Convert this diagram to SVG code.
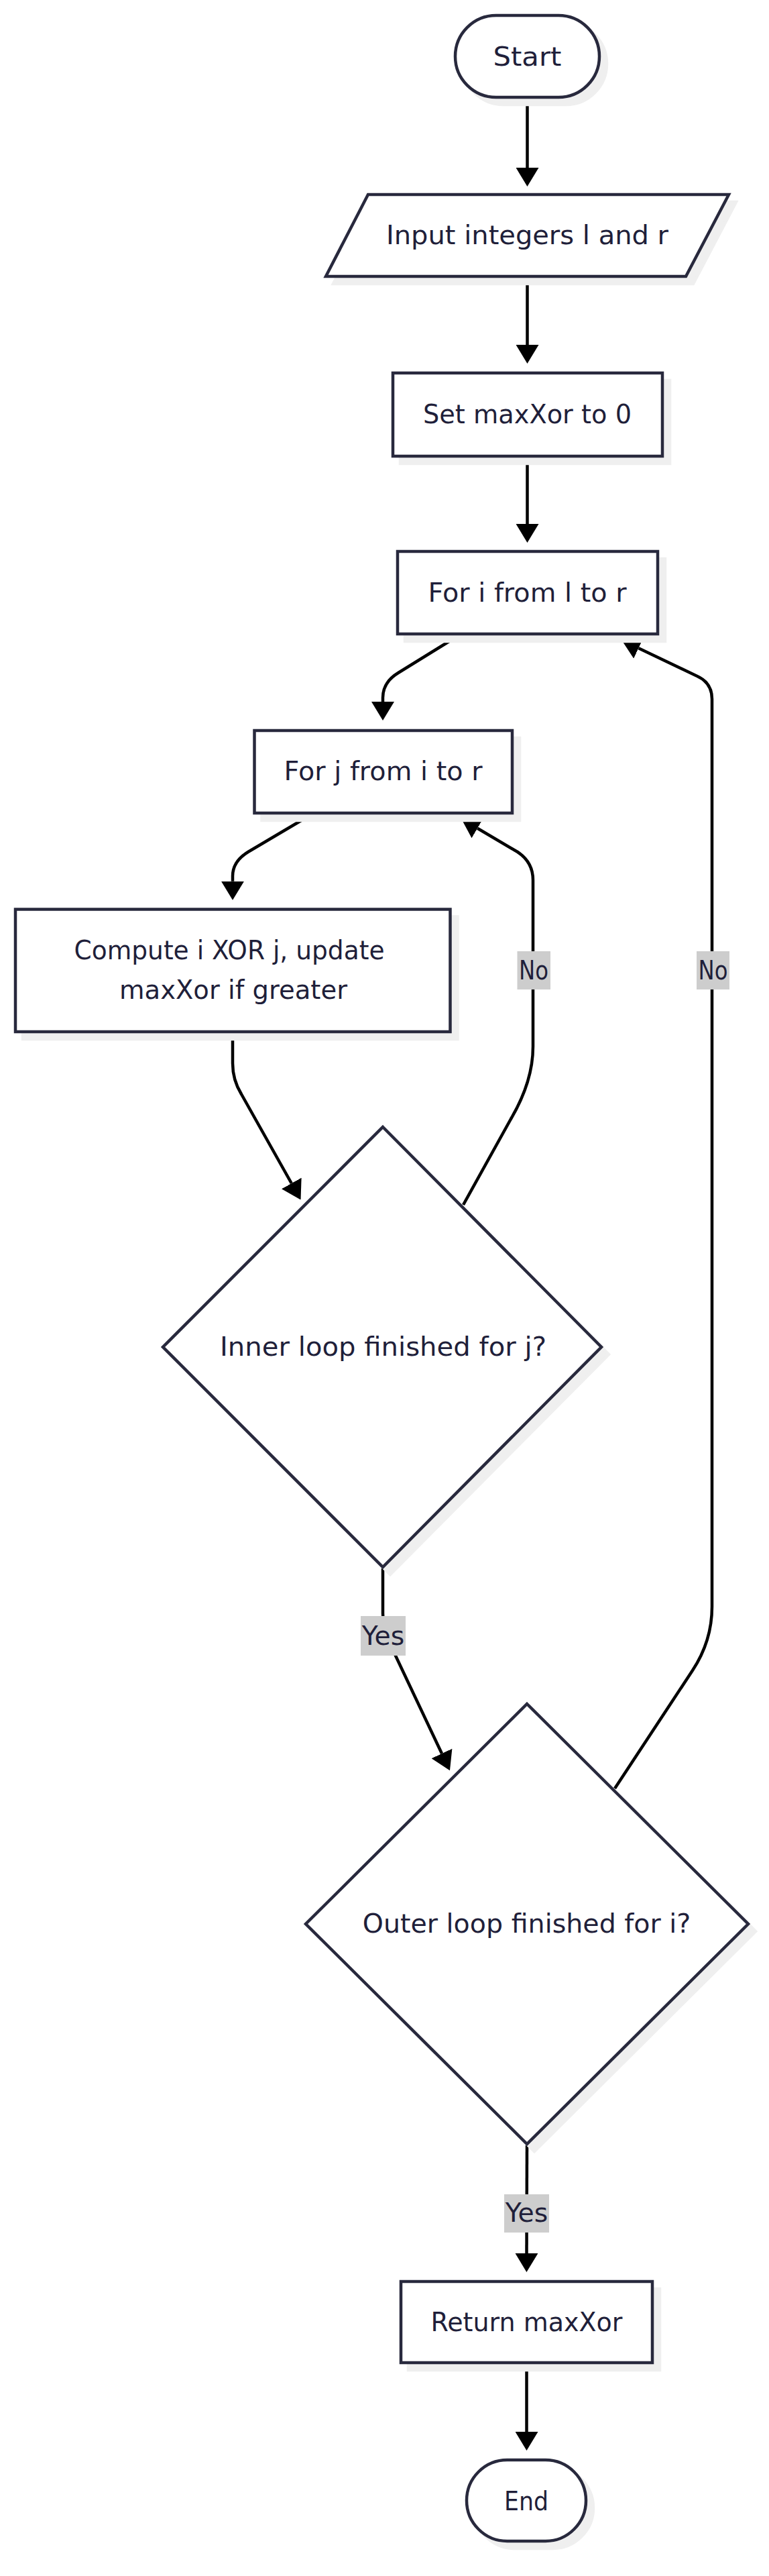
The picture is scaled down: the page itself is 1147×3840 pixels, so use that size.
<svg xmlns="http://www.w3.org/2000/svg" width="1147" height="3840" viewBox="0 0 1147 3840">
<defs>
<style>
.node{fill:#ffffff;stroke:#28293d;stroke-width:4.5}
.shadow{fill:#efefef;stroke:#efefef;stroke-width:4.5}
.txt{font-family:"DejaVu Sans","Noto Sans",sans-serif;font-size:39px;fill:#1f1f3a;text-anchor:middle}
.edge{fill:none;stroke:#000000;stroke-width:4.5;stroke-linejoin:round}
.lblbg{fill:#cdcdcd}
</style>
<marker id="arrow" markerUnits="userSpaceOnUse" markerWidth="28" markerHeight="34" viewBox="0 0 28 34" refX="0" refY="17" orient="auto">
<path d="M0,0 L28,17 L0,34 Z" fill="#000000"/>
</marker>
</defs>
<rect width="1147" height="3840" fill="#ffffff"/>

<g id="connectors">
<path class="edge" d="M786.5,147 L786.5,250" marker-end="url(#arrow)"/>
<path class="edge" d="M786.5,414 L786.5,514" marker-end="url(#arrow)"/>
<path class="edge" d="M786.5,682 L786.5,781" marker-end="url(#arrow)"/>
<path class="edge" d="M683,948 L594,1003 Q571,1017 571,1040 L571,1046" marker-end="url(#arrow)"/>
<path class="edge" d="M463,1215 L370,1270 Q347,1284 347,1306 L347,1313.8" marker-end="url(#arrow)"/>
<path class="edge" d="M347,1540 L347,1585 Q347,1610 360,1631 L434.8,1764" marker-end="url(#arrow)"/>
<path class="edge" d="M691,1796 L762,1668 Q795,1612 795,1560 L795,1312 Q795,1285 772,1270 L712.2,1234.7" marker-end="url(#arrow)"/>
<path class="edge" d="M571,2338 L571,2405 Q571,2425 580,2447 L659,2614" marker-end="url(#arrow)"/>
<path class="edge" d="M917,2666 L1033,2490 Q1062,2446 1062,2395 L1062,1042 Q1062,1018 1040,1008 L952.5,966.2" marker-end="url(#arrow)"/>
<path class="edge" d="M786,3198 L785.5,3359" marker-end="url(#arrow)"/>
<path class="edge" d="M785.5,3524 L785.5,3625" marker-end="url(#arrow)"/>
<g id="edge-labels">
<rect class="lblbg" x="771.5" y="1418" width="49.5" height="57"/>
<text class="txt" x="796" y="1460" textLength="44" lengthAdjust="spacingAndGlyphs">No</text>
<rect class="lblbg" x="1039" y="1418" width="49" height="57"/>
<text class="txt" x="1063.5" y="1460" textLength="44" lengthAdjust="spacingAndGlyphs">No</text>
<rect class="lblbg" x="538" y="2409" width="67" height="59"/>
<text class="txt" x="571.5" y="2452" textLength="63.5" lengthAdjust="spacingAndGlyphs">Yes</text>
<rect class="lblbg" x="752" y="3271" width="67" height="57"/>
<text class="txt" x="785.5" y="3312" textLength="63.5" lengthAdjust="spacingAndGlyphs">Yes</text>
</g>
</g>

<g id="start">
<rect class="shadow" x="690" y="34" width="215" height="122" rx="61"/>
<rect class="node" x="679" y="23" width="215" height="122" rx="61"/>
<text class="txt" x="786.5" y="97.5" textLength="102" lengthAdjust="spacingAndGlyphs">Start</text>
</g>

<g id="input">
<polygon class="shadow" points="560,301 1098,301 1034,423 497,423"/>
<polygon class="node" points="549,290 1087,290 1023,412 486,412"/>
<text class="txt" x="786.5" y="364" textLength="421" lengthAdjust="spacingAndGlyphs">Input integers l and r</text>
</g>

<g id="setmax">
<rect class="shadow" x="597" y="567" width="402" height="124"/>
<rect class="node" x="586" y="556" width="402" height="124"/>
<text class="txt" x="786.5" y="630.5" textLength="311" lengthAdjust="spacingAndGlyphs">Set maxXor to 0</text>
</g>

<g id="fori">
<rect class="shadow" x="604" y="833" width="388" height="123"/>
<rect class="node" x="593" y="822" width="388" height="123"/>
<text class="txt" x="786.5" y="896.5" textLength="296" lengthAdjust="spacingAndGlyphs">For i from l to r</text>
</g>

<g id="forj">
<rect class="shadow" x="390.5" y="1100" width="384.5" height="123"/>
<rect class="node" x="379.5" y="1089" width="384.5" height="123"/>
<text class="txt" x="571.5" y="1163" textLength="296" lengthAdjust="spacingAndGlyphs">For j from i to r</text>
</g>

<g id="compute">
<rect class="shadow" x="34" y="1366.5" width="648.5" height="182.5"/>
<rect class="node" x="23" y="1355.5" width="648.5" height="182.5"/>
<text class="txt" x="342" y="1430" textLength="463" lengthAdjust="spacingAndGlyphs">Compute i XOR j, update</text>
<text class="txt" x="348" y="1489" textLength="340" lengthAdjust="spacingAndGlyphs">maxXor if greater</text>
</g>

<g id="inner">
<polygon class="shadow" points="582,1691 908,2019 582,2347 254,2019"/>
<polygon class="node" points="571,1680 897,2008 571,2336 243,2008"/>
<text class="txt" x="571.5" y="2021" textLength="487" lengthAdjust="spacingAndGlyphs">Inner loop finished for j?</text>
</g>

<g id="outer">
<polygon class="shadow" points="797,2551 1127,2879 797,3207 467,2879"/>
<polygon class="node" points="786,2540 1116,2868 786,3196 456,2868"/>
<text class="txt" x="785.5" y="2881" textLength="489.5" lengthAdjust="spacingAndGlyphs">Outer loop finished for i?</text>
</g>

<g id="return">
<rect class="shadow" x="609" y="3412" width="375" height="121"/>
<rect class="node" x="598" y="3401" width="375" height="121"/>
<text class="txt" x="785.5" y="3475" textLength="286" lengthAdjust="spacingAndGlyphs">Return maxXor</text>
</g>

<g id="end">
<rect class="shadow" x="707" y="3678" width="178" height="121" rx="60.5"/>
<rect class="node" x="696" y="3667" width="178" height="121" rx="60.5"/>
<text class="txt" x="785" y="3742" textLength="66" lengthAdjust="spacingAndGlyphs">End</text>
</g>
</svg>
